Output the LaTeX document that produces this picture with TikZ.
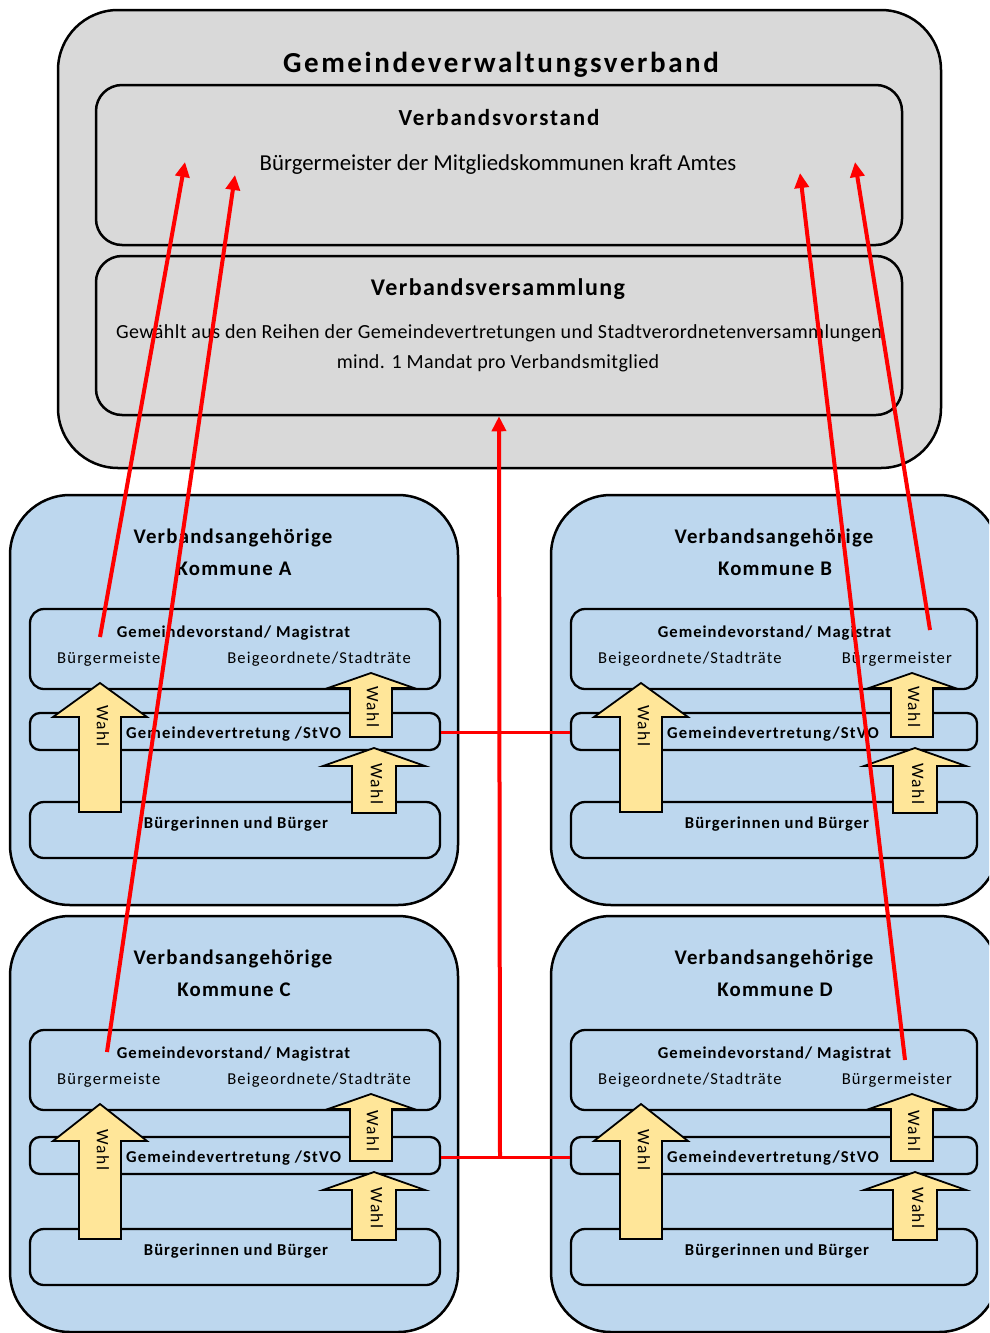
\documentclass[tikz,border=0pt]{standalone}
\usepackage{fontspec}
\setmainfont{Carlito}
\usetikzlibrary{arrows.meta}
\definecolor{grayfill}{HTML}{D9D9D9}
\definecolor{bluefill}{HTML}{BDD7EE}
\definecolor{yellowfill}{HTML}{FFE699}
\definecolor{redline}{HTML}{FF0000}
\tikzset{
  bigbox/.style={draw=black, line width=2.5pt, rounded corners=60pt, inner sep=0pt},
  graybox/.style={bigbox, fill=grayfill},
  bluebox/.style={bigbox, fill=bluefill},
  panel/.style={draw=black, line width=2.5pt, rounded corners=26pt, inner sep=0pt},
  innerbox/.style={draw=black, line width=2.3pt, rounded corners=14pt, inner sep=0pt},
  thinbox/.style={draw=black, line width=2.3pt, rounded corners=10pt, inner sep=0pt},
  txt/.style={inner sep=0pt, anchor=base},
  wtxt/.style={inner sep=0pt, anchor=center, rotate=-90, font=\fs{17.5}\ls{8}},
  yarrow/.style={draw=black, line width=1.8pt, fill=yellowfill, line join=miter},
  redarrow/.style={draw=redline, line width=4pt, -{Triangle[length=15pt,width=14pt]}},
  redlink/.style={draw=redline, line width=3pt},
}
\newcommand{\fs}[1]{\fontsize{#1}{#1}\selectfont}
\newcommand{\ls}[1]{\addfontfeatures{LetterSpace=#1}}
% block arrow: cx, tip y, head base y, bottom y, half shaft, half head
\newcommand{\wahlarrow}[6]{%
  \draw[yarrow] ({#1-#5},{#4}) -- ({#1-#5},{#3}) -- ({#1-#6},{#3}) -- (#1,{#2}) -- ({#1+#6},{#3}) -- ({#1+#5},{#3}) -- ({#1+#5},{#4}) -- cycle;}
% kommune: id, letter, left label, right label, vertretung text, dy1, dy2, dy3, inner width reduction
\newcommand{\kommune}[9]{%
  \node[bluebox, minimum width=448pt, minimum height={410pt+#8pt-#6pt}] (K#1) at (234,{700+(#6+#8)/2}) {};
  \node[txt, font=\bfseries\fs{20.8}\ls{6}] (K#1t1) at (233,{543+#6}) {Verbandsangehörige};
  \node[txt, font=\bfseries\fs{20.8}\ls{6}] (K#1t2) at (234,{575+#6}) {Kommune #2};
  \node[innerbox, minimum width={410pt-#9pt}, minimum height=80pt] (GV#1) at ({235-#9/2},{649+#6}) {};
  \node[thinbox, minimum width={410pt-#9pt}, minimum height=37pt] (VT#1) at ({235-#9/2},{731.5+#7}) {};
  \node[innerbox, minimum width={410pt-#9pt}, minimum height=56pt] (BB#1) at ({235-#9/2},{830+#8}) {};
  \node[txt, font=\bfseries\fs{16.6}\ls{6}] (GV#1t) at (233.5,{637+#6}) {Gemeindevorstand/ Magistrat};
  \node[txt, font=\fs{16.6}\ls{7}, anchor=base west] (GV#1l) at (57,{663+#6}) {#3};
  \node[txt, font=\fs{16.6}\ls{7}, anchor=base east] (GV#1r) at (411,{663+#6}) {#4};
  \node[txt, font=\bfseries\fs{16.6}\ls{7}, anchor=base west] (VT#1t) at (126,{738+#7}) {#5};
  \node[txt, font=\bfseries\fs{16.6}\ls{6}] (BB#1t) at (236,{828+#8}) {Bürgerinnen und Bürger};
  \wahlarrow{100}{683+#6}{717+#7}{812+#8}{21}{47}
  \node[wtxt] (W#1a) at (103,{726+#7}) {Wahl};
  \wahlarrow{371}{673+#6}{688+#6}{737+#7}{21}{43}
  \node[wtxt] (W#1b) at (373,{707+#7}) {Wahl};
  \wahlarrow{374}{748+#7}{766+#7}{813+#8}{22}{51}
  \node[wtxt] (W#1c) at (377,{784+#7}) {Wahl};
}
\begin{document}
\begin{tikzpicture}[x=1pt, y=-1pt]
\useasboundingbox (0,0) rectangle (989,1333);
\begin{scope}
\clip (0,0) rectangle (989,1333);
% top union
\node[graybox, minimum width=883pt, minimum height=458pt] (GVV) at (499.5,239) {};
\node[panel, minimum width=806pt, minimum height=160pt] (vorst) at (499,165) {};
\node[panel, minimum width=806pt, minimum height=159pt] (vers) at (499,335.5) {};
\node[txt, font=\bfseries\fs{29}\ls{9}] (title) at (501,72) {Gemeindeverwaltungsverband};
\node[txt, font=\bfseries\fs{23}\ls{8}] (vorstT) at (499,125) {Verbandsvorstand};
\node[txt, font=\fs{22.8}] (vorstL) at (498,170) {Bürgermeister der Mitgliedskommunen kraft Amtes};
\node[txt, font=\bfseries\fs{24}\ls{6}] (versT) at (498,295) {Verbandsversammlung};
\node[txt, font=\fs{20}\ls{2}] (versL1) at (499,338) {Gewählt aus den Reihen der Gemeindevertretungen und Stadtverordnetenversammlungen};
\node[txt, font=\fs{20}\ls{2}] (versL2) at (498,368) {mind. 1 Mandat pro Verbandsmitglied};
% kommunen
\begin{scope}\kommune{A}{A}{Bürgermeiste}{Beigeordnete/Stadträte}{Gemeindevertretung /StVO}{0}{0}{0}{0}\end{scope}
\begin{scope}[shift={(541,0)}]\kommune{B}{B}{Beigeordnete/Stadträte}{Bürgermeister}{Gemeindevertretung/StVO}{0}{0}{0}{4}\end{scope}
\begin{scope}\kommune{C}{C}{Bürgermeiste}{Beigeordnete/Stadträte}{Gemeindevertretung /StVO}{421}{424}{427}{0}\end{scope}
\begin{scope}[shift={(541,0)}]\kommune{D}{D}{Beigeordnete/Stadträte}{Bürgermeister}{Gemeindevertretung/StVO}{421}{424}{427}{4}\end{scope}
% red connections
\coordinate (sA) at (100,637);
\coordinate (sC) at (107,1052);
\coordinate (sB) at (930,630);
\coordinate (sD) at (905,1060);
\coordinate (tA) at (185,162);
\coordinate (tC) at (235,175);
\coordinate (tB) at (855,162);
\coordinate (tD) at (800,173);
\coordinate (jAB) at (500,732);
\coordinate (jCD) at (500,1157);
\draw[redlink] (VTA.east |- jAB) -- (VTB.west |- jAB);
\draw[redlink] (VTC.east |- jCD) -- (VTD.west |- jCD);
\draw[redarrow] (jCD) -- (vers.south);
\draw[redarrow] (sA) -- (tA);
\draw[redarrow] (sC) -- (tC);
\draw[redarrow] (sB) -- (tB);
\draw[redarrow] (sD) -- (tD);
\end{scope}
\end{tikzpicture}
\end{document}
